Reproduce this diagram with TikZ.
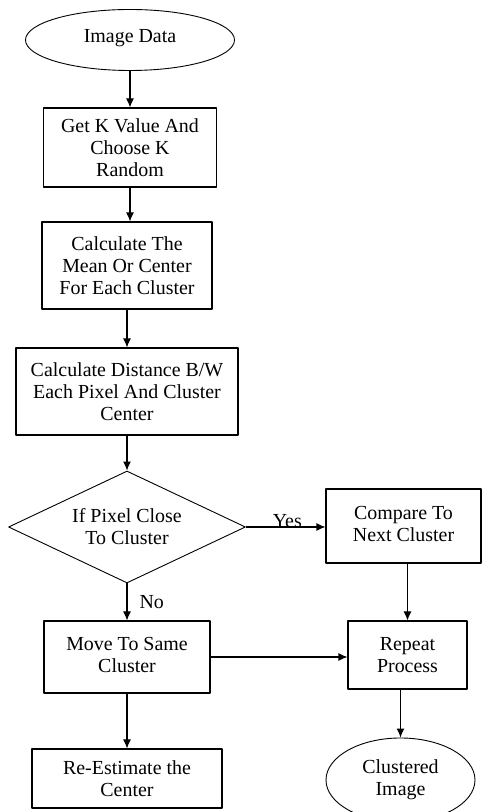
\documentclass[tikz,border=0pt]{standalone}
\usepackage{fontspec}
\setmainfont{Liberation Serif}
\usetikzlibrary{arrows.meta}
\usetikzlibrary{shapes.geometric}

\begin{document}
\begin{tikzpicture}[>={Latex[length=9bp,width=8bp]},line join=bevel,
  every node/.style={font=\fontsize{20}{22}\selectfont,align=center,inner sep=0pt},
  stepbox/.style={draw,line width=1.1bp,rectangle},
  endcap/.style={draw,line width=0.9bp,ellipse},
  askbox/.style={draw,line width=0.9bp,diamond,aspect=2.1},
  flow/.style={black,line width=1.1bp,->},
]
\clip (0bp,0bp) rectangle (483bp,812bp);
%%
\node (node_img) at (130bp,772bp) [endcap,minimum width=209bp,minimum height=61bp] {\raisebox{8bp}{Image Data}};
  \node (node_getk) at (130bp,664.5bp) [stepbox,minimum width=173bp,minimum height=79bp] {Get K Value And\\Choose K\\Random};
  \node (node_mean) at (127bp,546.5bp) [stepbox,minimum width=170bp,minimum height=87bp] {Calculate The\\Mean Or Center\\For Each Cluster};
  \node (node_dist) at (127bp,420.5bp) [stepbox,minimum width=222bp,minimum height=87bp] {Calculate Distance B/W\\Each Pixel And Cluster\\Center};
  \node (node_close) at (127bp,285bp) [askbox,minimum width=237bp,minimum height=112bp] {If Pixel Close\\To Cluster};
  \node (node_cmp) at (403.5bp,286bp) [stepbox,minimum width=155bp,minimum height=74bp] {\raisebox{8bp}{\begin{tabular}{@{}c@{}}Compare To\\Next Cluster\end{tabular}}};
  \node (node_move) at (127bp,155bp) [stepbox,minimum width=166bp,minimum height=72bp] {\raisebox{7bp}{\begin{tabular}{@{}c@{}}Move To Same\\Cluster\end{tabular}}};
  \node (node_rep) at (407.5bp,157bp) [stepbox,minimum width=119bp,minimum height=68bp] {Repeat\\Process};
  \node (node_reest) at (127bp,33.5bp) [stepbox,minimum width=190bp,minimum height=59bp] {Re-Estimate the\\Center};
  \node (node_clus) at (400.5bp,32bp) [endcap,minimum width=149bp,minimum height=84bp] {Clustered\\Image};
  \draw [flow] (node_img) -- (node_getk);
  \draw [flow] (node_getk.south) -- (node_getk.south |- node_mean.north);
  \draw [flow] (node_mean) -- (node_dist);
  \draw [flow] (node_dist) -- (node_close);
  \draw [flow] (node_close.east) -- node [pos=0.52,above=-1bp] {Yes} (node_cmp.west |- node_close.east);
  \draw [flow] (node_close) -- node [right=12bp] {No} (node_move);
  \draw [flow] (node_move) -- (node_reest);
  \draw [flow] (node_move.east) -- (node_move.east -| node_rep.west);
  \draw [flow] (node_rep.north |- node_cmp.south) -- (node_rep.north);
  \draw [flow] (node_clus.north |- node_rep.south) -- (node_clus.north);
%
\end{tikzpicture}
\end{document}
